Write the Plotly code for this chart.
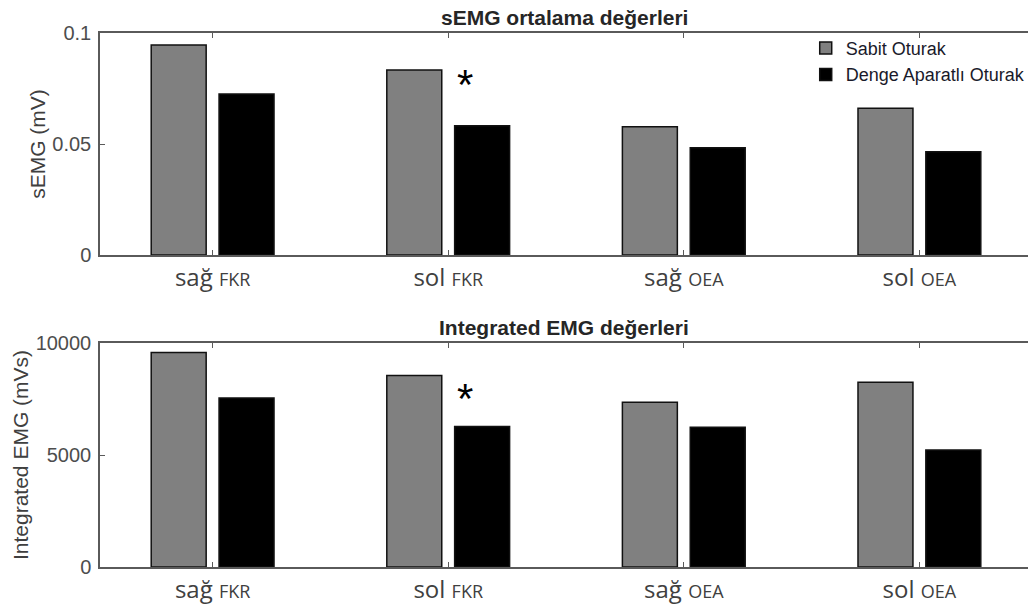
import plotly.graph_objects as go

# ---- data ----
sides = ["sağ", "sol", "sağ", "sol"]
muscles = ["FKR", "FKR", "OEA", "OEA"]
positions = [1, 2, 3, 4]
series_names = ["Sabit Oturak", "Denge Aparatlı Oturak"]
semg_sabit = [0.0946, 0.0833, 0.0578, 0.0661]
semg_denge = [0.0725, 0.0582, 0.0483, 0.0465]
iemg_sabit = [9580, 8550, 7360, 8250]
iemg_denge = [7540, 6270, 6240, 5220]
semg_ticks = [0, 0.05, 0.1]
semg_ticktext = ["0", "0.05", "0.1"]
iemg_ticks = [0, 5000, 10000]
iemg_ticktext = ["0", "5000", "10000"]
titles = ["sEMG ortalama değerleri", "Integrated EMG değerleri"]
ytitles = ["sEMG (mV)", "Integrated EMG (mVs)"]
# significance marks: (category position, y value) per panel
sig_semg = [(2.072, 0.0788)]
sig_iemg = [(2.072, 7686)]

colors = ["#808080", "#000000"]

W, H = 1031, 613
ML, MR, MT, MB = 100, 0, 33, 46
PH = H - MT - MB


def frac(px_top, px_bottom):
    return [(H - MB - px_bottom) / PH, (H - MB - px_top) / PH]


fig = go.Figure()

panels = [
    (semg_sabit, semg_denge, "x", "y"),
    (iemg_sabit, iemg_denge, "x2", "y2"),
]
for p, (a, b, xa, ya) in enumerate(panels):
    for k, vals in enumerate([a, b]):
        fig.add_trace(go.Bar(
            x=positions, y=vals, name=series_names[k],
            marker=dict(color=colors[k], line=dict(color="#111111", width=1.5)),
            xaxis=xa, yaxis=ya, showlegend=(p == 0),
        ))

ticktext = [
    f"<span style='font-size:24px'>{s}</span>&nbsp; <span style='font-size:18px'>{m}</span>"
    for s, m in zip(sides, muscles)
]

axis_common = dict(
    showline=True, linecolor="#5a5a5a", linewidth=1.5,
    ticks="inside", ticklen=5, tickcolor="#5a5a5a", showgrid=False, zeroline=False,
    automargin=False,
)
xrange = [0.522, 4.461]
fig.update_layout(
    width=W, height=H,
    margin=dict(l=ML, r=MR, t=MT, b=MB),
    plot_bgcolor="white", paper_bgcolor="white",
    barmode="group", bargap=0.424, bargroupgap=0.19,
    font=dict(family="Liberation Sans, Arial, sans-serif", color="#404040"),
    xaxis=dict(domain=[0, 1], range=xrange, anchor="y", tickvals=positions, ticktext=ticktext,
               tickfont=dict(family="Open Sans, sans-serif", color="#404040"),
               ticklabelstandoff=15, mirror="ticks", **axis_common),
    yaxis=dict(domain=frac(33, 255), range=[0, 0.1], anchor="x", tickvals=semg_ticks,
               ticktext=semg_ticktext, tickfont=dict(size=20, color="#4d4d4d"),
               ticklabelstandoff=3, mirror=False,
               title=dict(text=ytitles[0], font=dict(size=21, color="#404040"), standoff=1),
               **axis_common),
    xaxis2=dict(domain=[0, 1], range=xrange, anchor="y2", tickvals=positions, ticktext=ticktext,
                tickfont=dict(family="Open Sans, sans-serif", color="#404040"),
                ticklabelstandoff=15, mirror="ticks", **axis_common),
    yaxis2=dict(domain=frac(343, 567), range=[0, 10000], anchor="x2", tickvals=iemg_ticks,
                ticktext=iemg_ticktext, tickfont=dict(size=20, color="#4d4d4d"),
                ticklabelstandoff=3, mirror=False,
                title=dict(text=ytitles[1], font=dict(size=21, color="#404040"), standoff=1),
                **axis_common),
    legend=dict(x=(808 - ML) / (W - ML - MR), y=1.006, xanchor="left", yanchor="top",
                bgcolor="rgba(255,255,255,0)", font=dict(size=18, color="#1a1a2a"),
                tracegroupgap=0),
)

for i, (xr, yr) in enumerate([("x domain", "y domain"), ("x2 domain", "y2 domain")]):
    fig.add_annotation(text=f"<b>{titles[i]}</b>", xref=xr, yref=yr, x=0.5, y=1,
                       xanchor="center", yanchor="bottom", yshift=2, showarrow=False,
                       font=dict(size=21, color="#262626"))

for (sx, sy) in sig_semg:
    fig.add_annotation(text="*", x=sx, y=sy, xref="x", yref="y", showarrow=False,
                       xanchor="center", yanchor="middle", yshift=-4,
                       font=dict(size=42, color="#000000"))
for (sx, sy) in sig_iemg:
    fig.add_annotation(text="*", x=sx, y=sy, xref="x2", yref="y2", showarrow=False,
                       xanchor="center", yanchor="middle", yshift=-4,
                       font=dict(size=42, color="#000000"))

fig.write_html("out.html", config={"displayModeBar": False},
               post_script="document.body.style.margin='0';")
